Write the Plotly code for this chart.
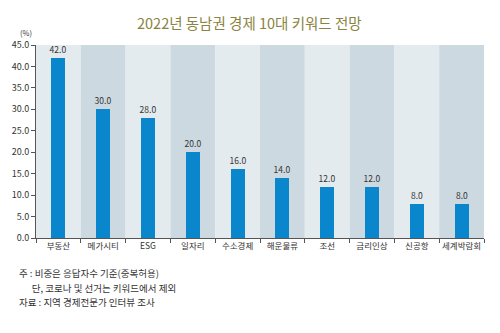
import plotly.graph_objects as go

categories = ["부동산", "메가시티", "ESG", "일자리", "수소경제", "해운물류", "조선", "금리인상", "신공항", "세계박람회"]
values = [42.0, 30.0, 28.0, 20.0, 16.0, 14.0, 12.0, 12.0, 8.0, 8.0]
title = "2022년 동남권 경제 10대 키워드 전망"
notes = ["주 : 비중은 응답자수 기준(중복허용)",
         "      단, 코로나 및 선거는 키워드에서 제외",
         "자료 : 지역 경제전문가 인터뷰 조사"]

FONT = "Noto Sans CJK KR"
fig = go.Figure()
fig.add_trace(go.Bar(
    x=categories, y=values, width=0.31,
    marker=dict(color="#0a87cc", line=dict(width=0)),
    text=[f"{v:.1f}" for v in values], textposition="outside",
    textfont=dict(size=8.5, color="#333333", family=FONT),
    constraintext="none", cliponaxis=False,
))

shapes = []
for i, _ in enumerate(categories):
    shapes.append(dict(type="rect", xref="x", yref="paper", x0=i - 0.5, x1=i + 0.5, y0=0, y1=1,
                       fillcolor="#e3ebef" if i % 2 == 0 else "#cdd9e1", line=dict(width=0), layer="below"))

annotations = [
    dict(text=title, xref="paper", yref="paper", x=0.477, y=1.0, yshift=23, showarrow=False,
         font=dict(size=14.5, color="#8a8440", family=FONT), xanchor="center", yanchor="middle"),
    dict(text="(%)", xref="paper", yref="paper", x=0, xshift=-18, y=1.0, yshift=13, showarrow=False,
         font=dict(size=7.5, color="#333333", family=FONT), xanchor="left", yanchor="middle"),
]
for k, n in enumerate(notes):
    annotations.append(dict(text=n.replace("  ", "&nbsp;&nbsp;"), xref="paper", yref="paper", x=0, xshift=-19,
                            y=0, yshift=-35 - 14.5 * k, showarrow=False,
                            font=dict(size=9.5, color="#333333", family=FONT), xanchor="left", yanchor="middle"))

fig.update_layout(
    width=500, height=333,
    margin=dict(l=29, r=16, t=45, b=95),
    paper_bgcolor="white", plot_bgcolor="white",
    showlegend=False, shapes=shapes, annotations=annotations,
    bargap=0, uniformtext=dict(mode=False),
    xaxis=dict(type="category", showline=True, linecolor="#555555", linewidth=1,
               ticks="outside", tickson="boundaries", ticklen=4, tickcolor="#555555",
               tickangle=0, tickfont=dict(size=8.5, color="#333333", family=FONT), showgrid=False,
               range=[-0.5, 9.5]),
    yaxis=dict(range=[0, 45], dtick=5, tickformat=".1f", showline=True, linecolor="#555555",
               linewidth=1, ticks="outside", ticklen=4, tickcolor="#555555", showgrid=False,
               tickfont=dict(size=9, color="#333333", family=FONT), zeroline=False),
)
fig.write_html("out.html")
